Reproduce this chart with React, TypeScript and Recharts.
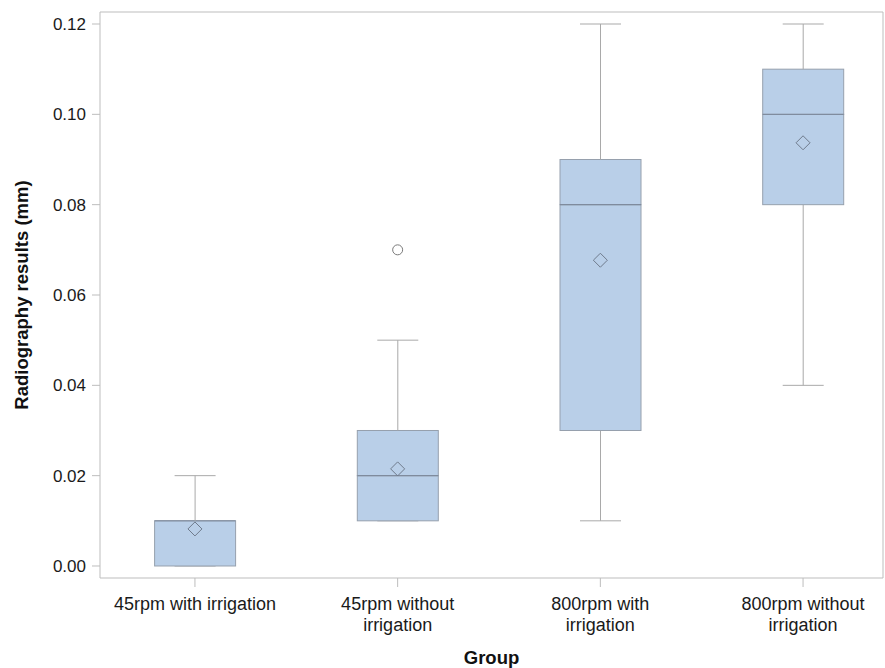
import { ComposedChart, Bar, Scatter, XAxis, YAxis, CartesianGrid } from 'recharts'

const groups = [
  '45rpm with irrigation',
  '45rpm without irrigation',
  '800rpm with irrigation',
  '800rpm without irrigation',
]
const groupLines = [
  ['45rpm with irrigation'],
  ['45rpm without', 'irrigation'],
  ['800rpm with', 'irrigation'],
  ['800rpm without', 'irrigation'],
]
const minimum = [0, 0.01, 0.01, 0.04]
const q1 = [0, 0.01, 0.03, 0.08]
const median = [0.01, 0.02, 0.08, 0.1]
const q3 = [0.01, 0.03, 0.09, 0.11]
const maximum = [0.02, 0.05, 0.12, 0.12]
const mean = [0.0082, 0.0215, 0.0677, 0.0937]
const outliers: (number | null)[] = [null, 0.07, null, null]
const yTicks = [0, 0.02, 0.04, 0.06, 0.08, 0.1, 0.12]

const data = groups.map((name, i) => ({
  name,
  base: minimum[i],
  lowWhisker: q1[i] - minimum[i],
  lowBox: median[i] - q1[i],
  highBox: q3[i] - median[i],
  highWhisker: maximum[i] - q3[i],
  mean: mean[i],
  outlier: outliers[i],
}))

const FONT = '"Liberation Sans", Arial, Helvetica, sans-serif'
const FRAME = '#BDBDBD'
const WHISKER = '#A9A9A9'
const BOX_FILL = '#B9CFE8'
const BOX_EDGE = '#96A0AD'
const MEDIAN = '#7B879A'
const CAP_HALF = 20.5

const LowWhisker = (p: any) => {
  const cx = p.x + p.width / 2
  const yb = p.y + p.height
  return (
    <g>
      <line x1={cx} x2={cx} y1={p.y} y2={yb} stroke={WHISKER} />
      <line x1={cx - CAP_HALF} x2={cx + CAP_HALF} y1={yb} y2={yb} stroke={WHISKER} />
    </g>
  )
}

const HighWhisker = (p: any) => {
  const cx = p.x + p.width / 2
  return (
    <g>
      <line x1={cx} x2={cx} y1={p.y} y2={p.y + p.height} stroke={WHISKER} />
      <line x1={cx - CAP_HALF} x2={cx + CAP_HALF} y1={p.y} y2={p.y} stroke={WHISKER} />
    </g>
  )
}

const BoxPart = (p: any) => (
  <rect
    x={p.x}
    y={p.y}
    width={p.width}
    height={Math.max(p.height, 0)}
    fill={BOX_FILL}
    stroke={BOX_EDGE}
    strokeWidth={1}
  />
)

// upper half of the box: its bottom edge is the median line
const UpperBox = (p: any) => {
  const yb = p.y + Math.max(p.height, 0)
  return (
    <g>
      <BoxPart {...p} />
      <line x1={p.x} x2={p.x + p.width} y1={yb} y2={yb} stroke={MEDIAN} strokeWidth={1} />
    </g>
  )
}

const Diamond = (p: any) => {
  const { cx, cy } = p
  const r = 7
  return (
    <path
      d={`M${cx},${cy - r}L${cx + r},${cy}L${cx},${cy + r}L${cx - r},${cy}Z`}
      fill="none"
      stroke="#6F7B8C"
      strokeWidth={1}
    />
  )
}

const Outlier = (p: any) => {
  if (p.payload == null || p.payload.outlier == null) return <g />
  return <circle cx={p.cx} cy={p.cy} r={5} fill="none" stroke="#7A7A7A" strokeWidth={1} />
}

const GroupTick = (p: any) => {
  const idx = groups.indexOf(p.payload.value)
  const lines = idx >= 0 ? groupLines[idx] : [String(p.payload.value)]
  return (
    <g transform={`translate(${p.x},${p.y})`}>
      {lines.map((line, i) => (
        <text
          key={i}
          x={0}
          y={21 + i * 21}
          textAnchor="middle"
          fill="#1a1a1a"
          fontSize={18}
          fontFamily={FONT}
        >
          {line}
        </text>
      ))}
    </g>
  )
}

const YLabel = (p: any) => {
  const vb = p.viewBox || { x: 0, y: 4, width: 92, height: 566 }
  const cy = vb.y + vb.height / 2
  const x = vb.x + 20
  return (
    <text
      x={x}
      y={cy}
      transform={`rotate(-90, ${x}, ${cy})`}
      textAnchor="middle"
      fontSize={18.5}
      fontWeight="bold"
      fontFamily={FONT}
      fill="#111"
    >
      Radiography results (mm)
    </text>
  )
}

const XLabel = (p: any) => {
  const vb = p.viewBox || { x: 92, y: 570, width: 783, height: 90 }
  return (
    <text
      x={vb.x + vb.width / 2}
      y={vb.y + vb.height - 4}
      textAnchor="middle"
      fontSize={18.5}
      fontWeight="bold"
      fontFamily={FONT}
      fill="#111"
    >
      Group
    </text>
  )
}

export default function App() {
  return (
    <div style={{ position: 'absolute', left: 8, top: 8, width: 877, height: 660, fontFamily: FONT }}>
      <ComposedChart
        width={877}
        height={660}
        data={data}
        margin={{ top: 4, right: 2, bottom: 0, left: 0 }}
      >
        <CartesianGrid
          stroke={FRAME}
          horizontalCoordinatesGenerator={({ offset }: any) => [offset.top]}
          verticalCoordinatesGenerator={({ offset }: any) => [offset.left + offset.width]}
        />
        <XAxis
          dataKey="name"
          type="category"
          interval={0}
          padding={{ left: -6.4, right: -21.4 }}
          height={90}
          tickSize={9}
          axisLine={{ stroke: FRAME }}
          tickLine={{ stroke: FRAME }}
          tick={<GroupTick />}
          label={<XLabel />}
        />
        <YAxis
          type="number"
          domain={[-0.00266, 0.12266]}
          allowDataOverflow
          ticks={yTicks}
          tickFormatter={(v: number) => v.toFixed(2)}
          width={92}
          tickSize={8}
          tickMargin={6}
          axisLine={{ stroke: FRAME }}
          tickLine={{ stroke: FRAME }}
          tick={{ fill: '#1a1a1a', fontSize: 17, fontFamily: FONT }}
          label={<YLabel />}
        />
        <Bar dataKey="base" stackId="box" barSize={81} fill="none" isAnimationActive={false} />
        <Bar dataKey="lowWhisker" stackId="box" barSize={81} shape={LowWhisker} isAnimationActive={false} />
        <Bar dataKey="lowBox" stackId="box" barSize={81} shape={BoxPart} isAnimationActive={false} />
        <Bar dataKey="highBox" stackId="box" barSize={81} shape={UpperBox} isAnimationActive={false} />
        <Bar dataKey="highWhisker" stackId="box" barSize={81} shape={HighWhisker} isAnimationActive={false} />
        <Scatter dataKey="mean" shape={Diamond} isAnimationActive={false} />
        <Scatter dataKey="outlier" shape={Outlier} isAnimationActive={false} />
      </ComposedChart>
    </div>
  )
}
